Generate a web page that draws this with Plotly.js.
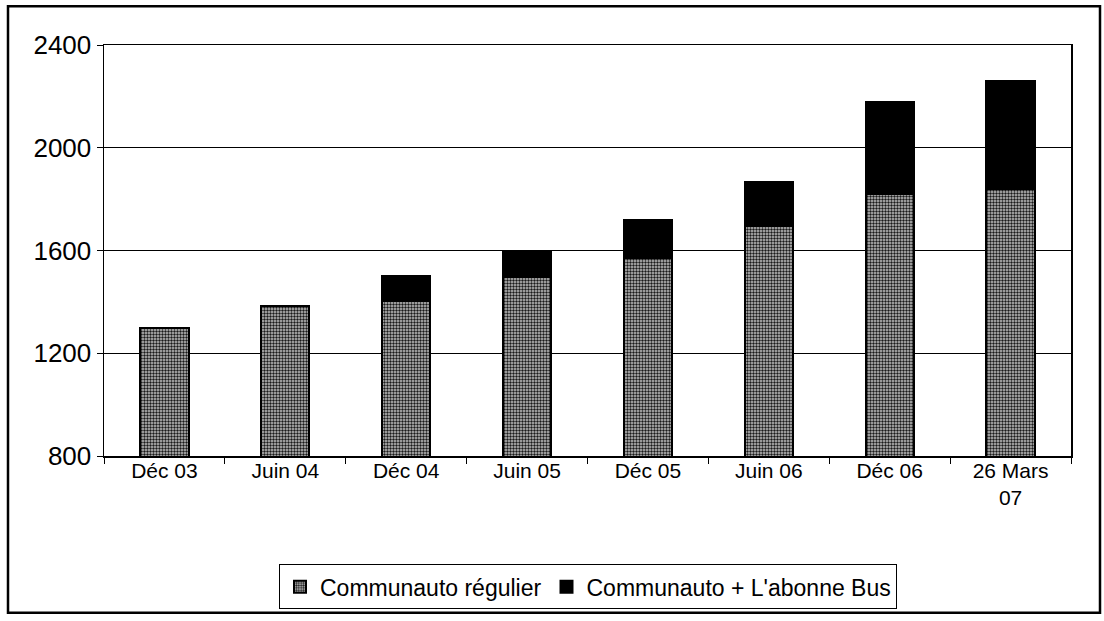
<!DOCTYPE html>
<html>
<head>
<meta charset="utf-8">
<script src="https://cdn.plot.ly/plotly-3.0.1.min.js"></script>
<style>
html,body{margin:0;padding:0;background:#fff;}
#chart{width:1104px;height:621px;}
</style>
</head>
<body>
<div id="chart"></div>
<script>
const categories = ['Déc 03','Juin 04','Déc 04','Juin 05','Déc 05','Juin 06','Déc 06','26 Mars<br>07'];
const regulier = [1300,1385,1405,1495,1570,1695,1820,1840];
const abonneBus = [null,null,95,105,150,170,360,420];
const yTicks = [800,1200,1600,2000,2400];

const traces = [
  {
    type:'bar', name:'Communauto régulier', x:categories, y:regulier,
    marker:{color:'#9a9a9a', line:{color:'#000', width:2},
      pattern:{shape:'.', fgcolor:'#1a1a1a', bgcolor:'#c4c4c4', size:3, solidity:0.5, fillmode:'replace'}},
    hoverinfo:'skip'
  },
  {
    type:'bar', name:"Communauto + L'abonne Bus", x:categories, y:abonneBus,
    marker:{color:'#000', line:{color:'#000', width:2}},
    hoverinfo:'skip'
  }
];

const L=104, R=1071, T=45, B=459;
const W=R-L, H=B-T;
const px = v => (v-L)/W;
const py = v => (B-v)/H;

const layout = {
  width:1104, height:621,
  margin:{l:L, r:1104-R, t:T, b:621-B, pad:0},
  paper_bgcolor:'#fff', plot_bgcolor:'#fff',
  barmode:'stack', bargap:0.6,
  font:{family:'Arial, "Liberation Sans", sans-serif', color:'#000', size:20},
  showlegend:true,
  legend:{orientation:'h', x:px(588), xanchor:'center', y:py(568), yanchor:'top',
    bordercolor:'#000', borderwidth:1, bgcolor:'#fff', traceorder:'normal',
    font:{size:23}, itemwidth:30},
  xaxis:{type:'category', showline:true, linecolor:'#000', linewidth:1.5, mirror:true,
    ticks:'outside', ticklen:6, tickcolor:'#000', tickson:'boundaries',
    ticklabelstandoff:-5,
    showgrid:false, tickfont:{size:21}, fixedrange:true},
  yaxis:{range:[800,2400], tickvals:yTicks, ticktext:yTicks.map(String),
    showline:true, linecolor:'#000', linewidth:1.5, mirror:true,
    ticks:'outside', ticklen:6, tickcolor:'#000',
    showgrid:true, gridcolor:'#000', gridwidth:1, zeroline:false,
    tickfont:{size:26}, fixedrange:true},
  shapes:[
    {type:'rect', xref:'paper', yref:'paper', x0:px(8), x1:px(1100), y0:py(617), y1:py(6),
      line:{color:'#000', width:2.5}, fillcolor:'rgba(0,0,0,0)', layer:'above'}
  ]
};

Plotly.newPlot('chart', traces, layout, {displayModeBar:false, staticPlot:true});
</script>
</body>
</html>
